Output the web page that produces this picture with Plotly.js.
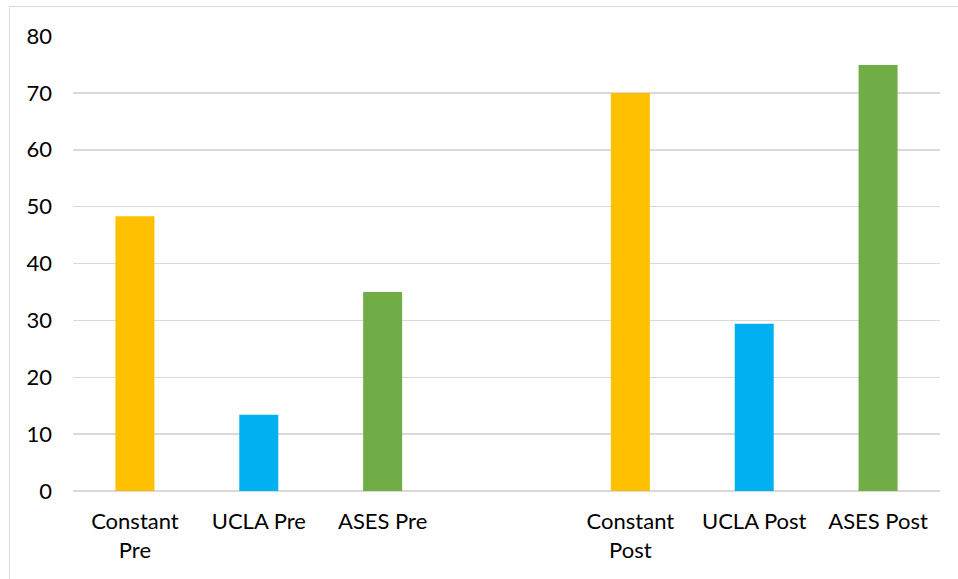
<!DOCTYPE html>
<html>
<head>
<meta charset="utf-8">
<script src="https://cdn.plot.ly/plotly-3.0.1.min.js"></script>
<style>
  html, body { margin: 0; padding: 0; background: #fff; }
  #wrap { position: relative; width: 958px; height: 579px; overflow: hidden; }
  #frame { position: absolute; left: 9px; top: 6px; width: 1000px; height: 1000px;
           border-left: 1.5px solid #d9d9d9; border-top: 1.5px solid #d9d9d9; box-sizing: border-box; pointer-events: none; }
  #chart { position: absolute; left: 0; top: 0; width: 958px; height: 579px; }
</style>
</head>
<body>
<div id="wrap">
  <div id="frame"></div>
  <div id="chart"></div>
</div>
<script>
// Data
const categories = ["Constant<br>Pre", "UCLA Pre", "ASES Pre", " ", "Constant<br>Post", "UCLA Post", "ASES Post"];
const values = [48.3, 13.4, 35.0, null, 70.0, 29.4, 74.9];
const barColors = ["#FFC000", "#00B0F0", "#70AD47", "#ffffff", "#FFC000", "#00B0F0", "#70AD47"];
const yTicks = [0, 10, 20, 30, 40, 50, 60, 70, 80];

const trace = {
  type: "bar",
  x: categories,
  y: values,
  marker: { color: barColors, line: { width: 0 } },
  hoverinfo: "x+y"
};

const layout = {
  width: 958,
  height: 579,
  paper_bgcolor: "rgba(0,0,0,0)",
  plot_bgcolor: "rgba(0,0,0,0)",
  margin: { l: 73, r: 18, t: 36, b: 88 },
  bargap: 0.685,
  showlegend: false,
  font: { family: "Lato, 'Open Sans', sans-serif", size: 22, color: "#000000" },
  xaxis: {
    type: "category",
    showgrid: false,
    zeroline: false,
    showline: false,
    ticks: "",
    ticklabelstandoff: 15,
    tickfont: { size: 22, color: "#000000" },
    automargin: false
  },
  yaxis: {
    range: [0, 80],
    tickvals: yTicks,
    ticktext: yTicks.map(String),
    showgrid: true,
    gridcolor: "#d9d9d9",
    gridwidth: 1.5,
    zeroline: true,
    zerolinecolor: "#d9d9d9",
    zerolinewidth: 1.5,
    showline: false,
    ticks: "",
    ticklabelstandoff: 20,
    tickfont: { size: 22, color: "#000000" },
    automargin: false
  }
};

Plotly.newPlot("chart", [trace], layout, { displayModeBar: false, staticPlot: true });
</script>
</body>
</html>
